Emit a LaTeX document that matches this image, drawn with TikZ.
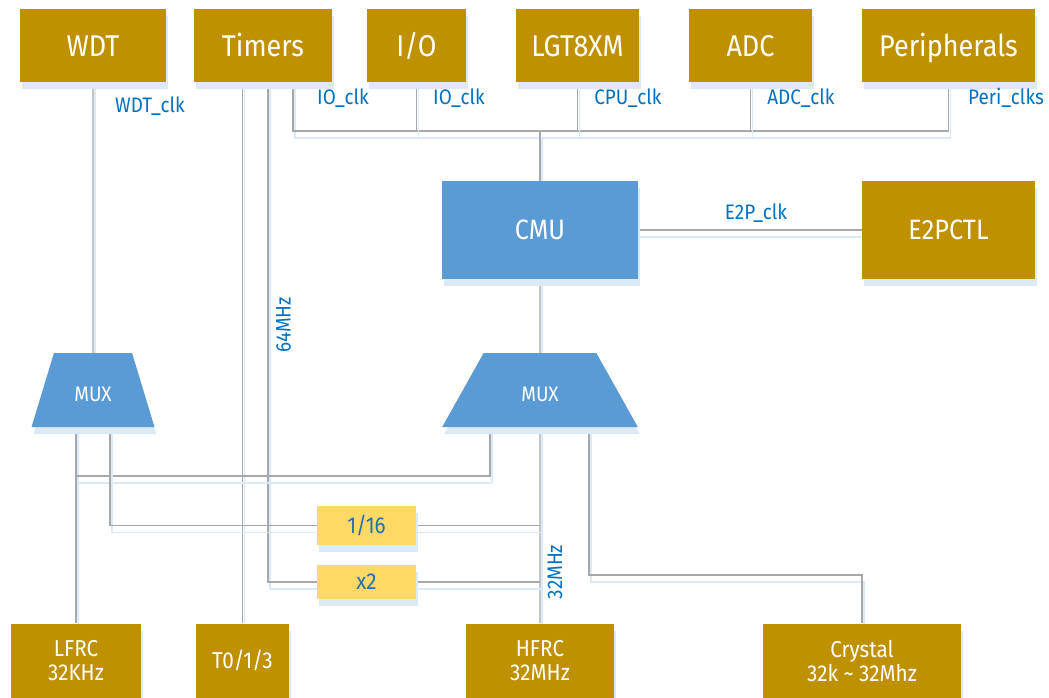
\documentclass[tikz,border=0pt]{standalone}
\usepackage{fontspec}
\setmainfont{Fira Sans}[FakeStretch=0.9]
\usetikzlibrary{shapes.geometric,shadows,backgrounds}
\definecolor{gold}{RGB}{191,144,0}
\definecolor{mublue}{RGB}{91,155,213}
\definecolor{ylw}{RGB}{255,217,102}
\definecolor{lblc}{RGB}{0,112,192}
\definecolor{divtxt}{RGB}{38,110,180}
\definecolor{wirec}{RGB}{168,168,168}
\definecolor{shadc}{RGB}{220,233,246}
\newcommand\fsz[2]{\fontsize{#1}{#2}\selectfont}
\begin{document}
\begin{tikzpicture}[x=1pt,y=-1pt,
  shad/.style={drop shadow={shadow xshift=2pt,shadow yshift=-7pt,fill=shadc,opacity=1}},
  topbox/.style={shad,fill=gold,text=white,inner sep=0pt,minimum height=73pt,
    font=\fsz{30}{36},text height=21pt,text depth=0pt},
  botbox/.style={shad,fill=gold,text=white,inner sep=0pt,minimum height=74pt,
    align=center,font=\fsz{23}{24}},
  cmubox/.style={shad,fill=mublue,text=white,inner sep=0pt,minimum width=196pt,
    minimum height=98pt,font=\fsz{28}{34}},
  e2pbox/.style={shad,fill=gold,text=white,inner sep=0pt,minimum width=173pt,
    minimum height=98pt,font=\fsz{28}{34}},
  muxbox/.style={shad,fill=mublue,text=white,trapezium,trapezium stretches=true,
    inner sep=0pt,minimum height=74pt,font=\fsz{21}{25},text height=22pt,text depth=0pt},
  divbox/.style={shad,fill=ylw,text=divtxt,inner sep=0pt,minimum width=99pt,
    font=\fsz{23}{27}},
  lbl/.style={text=lblc,inner sep=0pt,font=\fsz{21}{25}},
  wire/.style={draw=wirec,line width=1.2pt,
    preaction={draw=shadc,line width=1.6pt,transform canvas={shift={(2pt,-7pt)}}}}
]
\useasboundingbox (0,0) rectangle (1049,697);
% top row
\node[topbox,minimum width=146pt] (wdt) at (93,45.5) {WDT};
\node[topbox,minimum width=138pt] (timers) at (263,45.5) {Timers};
\node[topbox,minimum width=99pt] (io) at (416.5,45.5) {I/O};
\node[topbox,minimum width=123pt] (lgt) at (577.5,45.5) {LGT8XM};
\node[topbox,minimum width=123pt] (adc) at (750.5,45.5) {ADC};
\node[topbox,minimum width=173pt] (peri) at (948.5,45.5) {Peripherals};
% middle
\node[cmubox] (cmu) at (540,230) {CMU};
\node[e2pbox] (e2p) at (948.5,230) {E2PCTL};
\node[muxbox,minimum width=123pt,trapezium angle=64] (mux1) at (93,390) {MUX};
\node[muxbox,minimum width=196pt,trapezium angle=58] (mux2) at (540,390) {MUX};
\node[divbox,minimum height=39pt] (d16) at (366.5,525.5) {1/16};
\node[divbox,minimum height=34pt] (x2) at (366.5,582) {x2};
% bottom row
\node[botbox,minimum width=130pt] (lfrc) at (76,660.5) {LFRC\\32KHz};
\node[botbox,minimum width=93pt] (t013) at (242.5,660.5) {T0/1/3};
\node[botbox,minimum width=148pt] (hfrc) at (540,660.5) {HFRC\\32MHz};
\node[botbox,minimum width=198pt] (crys) at (862,660.5) {Crystal\\32k \textasciitilde{} 32Mhz};
% labels
\node[lbl] (lwdt) at (150,106) {WDT\_clk};
\node[lbl] (lio1) at (343,98) {IO\_clk};
\node[lbl] (lio2) at (459,98) {IO\_clk};
\node[lbl] (lcpu) at (628,98) {CPU\_clk};
\node[lbl] (ladc) at (801,98) {ADC\_clk};
\node[lbl] (lperi) at (1006,98) {Peri\_clks};
\node[lbl] (le2p) at (756,213) {E2P\_clk};
\node[lbl,rotate=90] (l64) at (283.5,325) {64MHz};
\node[lbl,rotate=90] (l32) at (555,572) {32MHz};
% free wire ends
\coordinate (t64) at (268,82);
\coordinate (tio) at (293,82);
\coordinate (busy) at (0,131);
\coordinate (m1r) at (110,427);
\coordinate (m2l) at (490,427);
\coordinate (m2r) at (589,427);
\begin{pgfonlayer}{background}
\draw[wire] (wdt.south) -- (mux1.north);
\draw[wire] (t013.north |- timers.south) -- (t013.north);
\draw[wire] (t64) |- (x2.west);
\draw[wire] (tio) |- (busy -| peri.south) -- (peri.south);
\draw[wire] (io.south) -- (io.south |- busy);
\draw[wire] (lgt.south) -- (lgt.south |- busy);
\draw[wire] (adc.south) -- (adc.south |- busy);
\draw[wire] (cmu.north) -- (cmu.north |- busy);
\draw[wire] (cmu.east) -- (e2p.west);
\draw[wire] (cmu.south) -- (mux2.north);
\draw[wire] (mux2.south) -- (hfrc.north);
\draw[wire] (mux1.south -| lfrc.north) -- (lfrc.north);
\draw[wire] (m2l) -- ++(0,49) -| (lfrc.north);
\draw[wire] (m1r) |- (d16.west);
\draw[wire] (d16.east) -- (d16.east -| hfrc.north);
\draw[wire] (x2.east) -- (x2.east -| hfrc.north);
\draw[wire] (m2r) -- ++(0,148) -| (crys.north);
\end{pgfonlayer}
\end{tikzpicture}
\end{document}
